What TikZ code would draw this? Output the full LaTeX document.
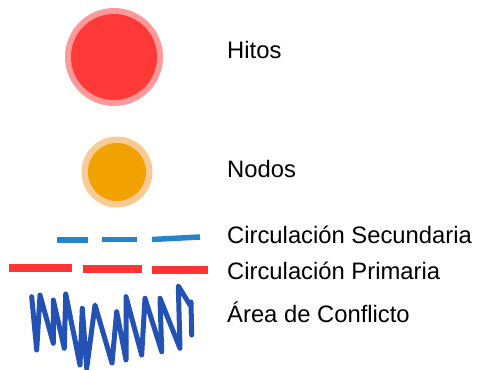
\documentclass[tikz,border=0pt]{standalone}
\usepackage{fontspec}
\setmainfont{Liberation Sans}
\definecolor{hitring}{RGB}{255,152,152}
\definecolor{hitfill}{RGB}{255,56,56}
\definecolor{nodring}{RGB}{247,202,150}
\definecolor{nodfill}{RGB}{242,162,0}
\definecolor{secblue}{RGB}{40,132,200}
\definecolor{prired}{RGB}{255,52,52}
\definecolor{zigblue}{RGB}{35,82,180}
\tikzset{
  dot/.style={circle, inner sep=0pt, draw=none},
  lbl/.style={anchor=base west, inner sep=0pt, font=\fontsize{23.8}{28}\selectfont},
  secline/.style={secblue, line width=5.5pt},
  priline/.style={prired, line width=8pt},
  zig/.style={zigblue, line width=5pt, line join=round, line cap=round}
}
\begin{document}
\begin{tikzpicture}[x=1pt,y=-1pt]
\useasboundingbox (0,0) rectangle (480,370);
% Hitos
\node[dot, fill=hitring, minimum size=98pt] (hring) at (114,57) {};
\node[dot, fill=hitfill, minimum size=86pt] (hfill) at (114,57) {};
% Nodos
\node[dot, fill=nodring, minimum size=71pt] (nring) at (117,172) {};
\node[dot, fill=nodfill, minimum size=58pt] (nfill) at (117,172) {};
% secondary
\coordinate (s1a) at (57,240); \coordinate (s1b) at (88,240);
\coordinate (s2a) at (102,239.5); \coordinate (s2b) at (137,239.5);
\coordinate (s3a) at (152,239.5); \coordinate (s3b) at (200,237);
\draw[secline] (s1a) -- (s1b);
\draw[secline] (s2a) -- (s2b);
\draw[secline] (s3a) -- (s3b);
% primary
\coordinate (p1a) at (9,267.5); \coordinate (p1b) at (72,267.5);
\coordinate (p2a) at (83,268.5); \coordinate (p2b) at (142,268.5);
\coordinate (p3a) at (152,269.5); \coordinate (p3b) at (208,269.5);
\draw[priline] (p1a) -- (p1b);
\draw[priline] (p2a) -- (p2b);
\draw[priline] (p3a) -- (p3b);
% conflict zigzag
\draw[zig] (31.7,296.7) -- (36.7,350) -- (40,295) -- (53.3,343.3) -- (53.3,300)
  -- (64.3,348.3) -- (65.7,294) -- (80,365) -- (82.3,308.3) -- (86.7,368.3)
  -- (95,305) -- (112,363) -- (116.7,311.7) -- (126,360) -- (126,296.7)
  -- (141.7,355) -- (145,298.3) -- (161.7,351.7) -- (160,298.3) -- (180,348.3)
  -- (178.3,286) -- (190,305) -- (191,302) -- (191.7,335);
% labels
\node[lbl] (thitos) at (227,58) {Hitos};
\node[lbl] (tnodos) at (227,177) {Nodos};
\node[lbl] (tsec) at (227,243) {Circulación Secundaria};
\node[lbl] (tpri) at (227,279) {Circulación Primaria};
\node[lbl] (tarea) at (227,322) {Área de Conflicto};
\end{tikzpicture}
\end{document}
